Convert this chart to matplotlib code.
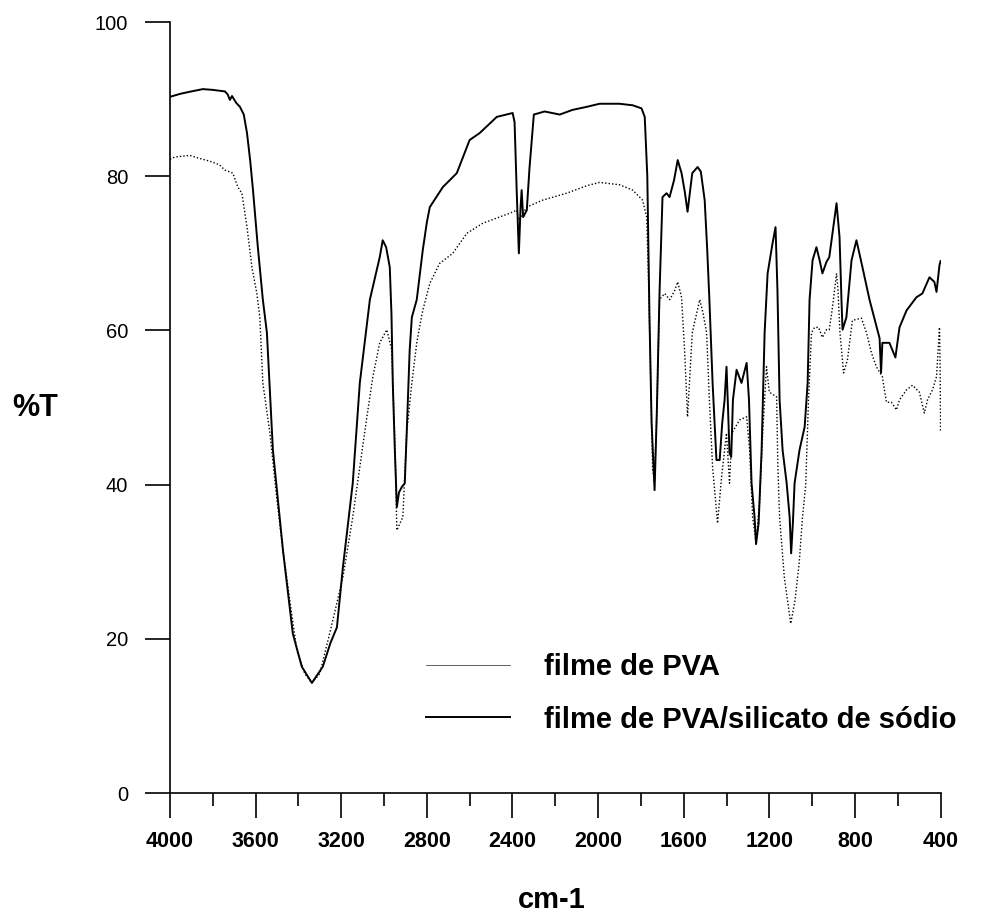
import numpy as np
import matplotlib
matplotlib.use("Agg")
import matplotlib.pyplot as plt
from matplotlib.ticker import MultipleLocator

plt.rcParams['font.family'] = ['Liberation Sans', 'DejaVu Sans']

# PVA/silicato de sodio film (solid line)
wn_silicato = [4000, 3950, 3900, 3846, 3800, 3743, 3730, 3720, 3710, 3690, 3673, 3655, 3640, 3625,
               3612, 3590, 3566, 3547, 3519, 3472, 3426, 3384, 3337, 3286, 3250, 3220, 3192, 3146,
               3113, 3066, 3020, 3006, 2990, 2973, 2965, 2959, 2950, 2940, 2930, 2917, 2903, 2894,
               2880, 2870, 2847, 2819, 2800, 2786, 2725, 2660, 2600, 2553, 2473, 2399, 2390, 2380,
               2370, 2362, 2357, 2350, 2333, 2320, 2300, 2250, 2179, 2120, 2053, 1993, 1900, 1838,
               1797, 1782, 1770, 1760, 1750, 1736, 1725, 1713, 1699, 1680, 1666, 1645, 1628, 1610,
               1595, 1582, 1560, 1535, 1520, 1502, 1490, 1480, 1465, 1447, 1432, 1420, 1409, 1400,
               1393, 1386, 1378, 1370, 1353, 1330, 1306, 1295, 1283, 1269, 1262, 1250, 1236, 1222,
               1208, 1185, 1171, 1162, 1152, 1138, 1119, 1105, 1098, 1090, 1082, 1059, 1035, 1021,
               1012, 998, 980, 965, 952, 933, 920, 905, 886, 872, 863, 858, 840, 816, 793, 765,
               732, 685, 678, 672, 639, 611, 592, 559, 513, 485, 452, 429, 419, 405, 400]
t_silicato = [90.3, 90.7, 91.0, 91.3, 91.2, 91.0, 90.6, 89.9, 90.4, 89.5, 89.0, 88.0, 85.6, 82.0,
              78.2, 71.0, 64.0, 59.7, 44.5, 31.5, 20.7, 16.4, 14.3, 16.4, 19.5, 21.5, 29.3, 40.2,
              53.2, 64.0, 69.5, 71.7, 70.8, 68.2, 62.0, 53.2, 45.0, 37.1, 39.0, 39.7, 40.2, 46.7,
              57.5, 61.7, 64.0, 70.4, 74.0, 76.0, 78.6, 80.4, 84.7, 85.6, 87.7, 88.2, 87.0, 78.0,
              70.0, 76.0, 78.2, 74.7, 75.6, 81.2, 88.0, 88.4, 88.0, 88.6, 89.0, 89.4, 89.4, 89.2,
              88.8, 87.7, 80.0, 62.0, 48.0, 39.3, 50.0, 64.8, 77.3, 77.8, 77.3, 79.5, 82.1, 80.4,
              78.0, 75.4, 80.4, 81.2, 80.6, 76.9, 70.4, 64.0, 53.2, 43.2, 43.2, 48.0, 51.0, 55.3,
              50.0, 44.1, 43.6, 51.0, 54.9, 53.2, 55.8, 51.0, 40.2, 35.8, 32.3, 35.0, 44.5, 59.7,
              67.4, 71.3, 73.4, 65.2, 51.0, 44.5, 40.2, 35.8, 31.1, 35.0, 40.2, 44.5, 47.5, 53.2,
              64.0, 69.1, 70.8, 69.1, 67.4, 68.9, 69.5, 72.6, 76.5, 72.1, 64.0, 60.1, 61.7, 69.1,
              71.7, 68.2, 64.0, 59.0, 54.5, 58.4, 58.4, 56.5, 60.4, 62.6, 64.3, 64.8, 66.9, 66.3,
              65.0, 68.5, 69.0]

# PVA film (dotted line)
wn_pva = [4000, 3977, 3907, 3860, 3820, 3799, 3770, 3743, 3706, 3683, 3664, 3640, 3617, 3594,
          3580, 3566, 3533, 3500, 3472, 3440, 3407, 3370, 3337, 3300, 3253, 3192, 3146, 3113,
          3080, 3052, 3020, 2987, 2964, 2955, 2948, 2940, 2925, 2912, 2894, 2870, 2847, 2830,
          2819, 2786, 2740, 2679, 2613, 2539, 2413, 2380, 2370, 2333, 2259, 2147, 2050, 1993,
          1900, 1838, 1792, 1773, 1765, 1755, 1745, 1738, 1728, 1713, 1689, 1665, 1642, 1628,
          1610, 1596, 1582, 1560, 1525, 1510, 1493, 1480, 1465, 1442, 1423, 1400, 1386, 1375,
          1339, 1306, 1292, 1278, 1262, 1245, 1231, 1213, 1200, 1166, 1160, 1152, 1130, 1100,
          1080, 1060, 1045, 1030, 1017, 1003, 989, 970, 952, 933, 920, 905, 886, 880, 870, 853,
          835, 812, 770, 746, 723, 700, 672, 653, 630, 606, 592, 559, 531, 499, 476, 461, 438,
          419, 405, 402, 400]
t_pva = [82.2, 82.5, 82.7, 82.3, 82.0, 81.8, 81.5, 80.8, 80.4, 78.6, 77.8, 73.4, 68.2, 64.8,
         61.7, 53.2, 46.7, 38.0, 31.5, 25.0, 18.5, 15.5, 14.3, 15.5, 20.8, 28.0, 35.8, 42.3,
         48.8, 54.0, 58.4, 60.1, 57.5, 50.0, 44.5, 34.1, 35.0, 35.8, 46.7, 53.2, 58.4, 61.0,
         62.6, 66.1, 68.7, 70.0, 72.6, 73.9, 75.2, 75.6, 74.3, 76.0, 76.9, 77.8, 78.8, 79.2,
         78.9, 78.2, 76.9, 74.7, 67.4, 55.0, 42.0, 40.5, 46.7, 64.0, 64.8, 64.0, 65.2, 66.3,
         64.3, 57.5, 48.8, 59.7, 64.0, 62.3, 59.7, 51.0, 42.3, 35.0, 41.0, 46.7, 40.2, 46.7,
         48.4, 48.8, 44.5, 35.8, 32.5, 38.0, 46.7, 55.3, 52.0, 51.4, 42.3, 35.8, 28.0, 22.0,
         25.0, 30.0, 35.8, 40.0, 51.0, 59.7, 60.4, 60.4, 59.1, 60.1, 60.1, 63.0, 67.4, 65.6,
         59.7, 54.5, 56.2, 61.3, 61.6, 59.7, 57.1, 55.3, 54.0, 50.7, 50.7, 49.7, 51.0, 52.3,
         52.9, 52.0, 49.3, 51.0, 52.3, 54.0, 60.4, 55.0, 47.0]

fig = plt.figure(figsize=(9.88, 9.17), dpi=100)
ax = fig.add_axes([0.172, 0.135, 0.780, 0.841])

ax.plot(wn_pva, t_pva, color='black', linestyle=(0, (1, 1.5)), linewidth=1.0,
        label='filme de PVA')
ax.plot(wn_silicato, t_silicato, color='black', linestyle='-', linewidth=1.4,
        label='filme de PVA/silicato de sódio')

ax.set_xlim(4000, 400)
ax.set_ylim(0, 100)
ax.spines['top'].set_visible(False)
ax.spines['right'].set_visible(False)
ax.spines['left'].set_linewidth(1.2)
ax.spines['bottom'].set_linewidth(1.2)

ax.xaxis.set_major_locator(MultipleLocator(400))
ax.xaxis.set_minor_locator(MultipleLocator(200))
ax.yaxis.set_major_locator(MultipleLocator(20))
ax.tick_params(axis='x', which='major', direction='out', length=18, width=1.2, pad=9,
               labelsize=15.5)
ax.tick_params(axis='x', which='minor', direction='out', length=9, width=1.2)
ax.tick_params(axis='y', which='major', direction='out', length=18, width=1.2, pad=12,
               labelsize=14.5)
for lbl in ax.get_xticklabels():
    lbl.set_fontweight('bold')

ax.text(0.495, -0.1495, 'cm-1', transform=ax.transAxes, ha='center', va='baseline',
        fontsize=21, fontweight='bold')
ax.text(-0.175, 0.499, '%T', transform=ax.transAxes, ha='center', va='center',
        fontsize=22, fontweight='bold')

leg = ax.legend(loc='upper left', bbox_to_anchor=(0.332, 0.182), frameon=False,
                prop={'size': 21, 'weight': 'bold'}, handlelength=2.9,
                handletextpad=1.15, labelspacing=0.85, borderpad=0, borderaxespad=0)
leg.get_lines()[0].set_linestyle('-')
leg.get_lines()[0].set_linewidth(0.6)
leg.get_lines()[0].set_color('#444444')

fig.savefig('out.png', dpi=100)
